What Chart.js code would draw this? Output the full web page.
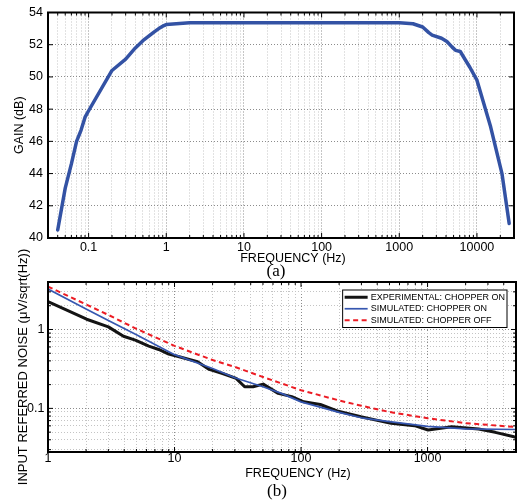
<!DOCTYPE html>
<html>
<head>
<meta charset="utf-8">
<script src="https://cdn.jsdelivr.net/npm/chart.js@4.4.0/dist/chart.umd.min.js"></script>
<style>
html,body{margin:0;padding:0;background:#fff;}
#wrap{position:relative;width:517px;height:504px;overflow:hidden;background:#fff;}
#boxA{position:absolute;left:0;top:0;width:517px;height:282px;}
#boxB{position:absolute;left:0;top:230px;width:517px;height:274px;}
</style>
</head>
<body>
<div id="wrap">
  <div id="boxA"><canvas id="cA"></canvas></div>
  <div id="boxB"><canvas id="cB"></canvas></div>
</div>
<script>
// ---------- (a) gain response ----------
const gainFreq = [0.04, 0.05, 0.06, 0.07, 0.08, 0.09, 0.1, 0.2, 0.3, 0.4, 0.5, 0.6, 0.7, 0.8, 0.9, 1, 2, 10, 100, 1000, 1500, 2000, 2400, 2650, 3500, 4100, 4800, 5300, 6100, 7100, 8100, 10000, 15000, 21000, 26000];
const gainDb   = [40.5, 43.1, 44.6, 46.0, 46.7, 47.5, 47.9, 50.4, 51.1, 51.8, 52.25, 52.55, 52.8, 53.0, 53.15, 53.25, 53.36, 53.36, 53.36, 53.36, 53.3, 53.1, 52.75, 52.6, 52.4, 52.2, 51.85, 51.65, 51.58, 51.05, 50.6, 49.8, 46.9, 44.0, 40.9];
const gainXLabels = [0.1, 1, 10, 100, 1000, 10000];
const gainYTicks  = [40, 42, 44, 46, 48, 50, 52, 54];

// ---------- (b) input referred noise ----------
const expFreq  = [1, 2.02, 3.0, 3.95, 4.9, 6.26, 7.5, 9.0, 10.9, 15.2, 18.8, 24, 30.7, 35.8, 41.8, 50.2, 66, 84.5, 105, 142, 193, 297, 515, 790, 1010, 1550, 2530, 3430, 4820, 5000];
const expNoise = [2.25, 1.35, 1.08, 0.82, 0.733, 0.615, 0.558, 0.487, 0.451, 0.39, 0.312, 0.277, 0.24, 0.188, 0.188, 0.203, 0.155, 0.141, 0.121, 0.112, 0.0926, 0.0783, 0.0646, 0.0604, 0.0532, 0.0586, 0.0547, 0.0497, 0.0437, 0.0425];
const simOnFreq  = [1, 2, 3, 5, 10, 20, 30, 50, 70, 100, 200, 300, 500, 1000, 2000, 5000];
const simOnNoise = [3.25, 1.82, 1.3, 0.86, 0.48, 0.32, 0.245, 0.188, 0.155, 0.121, 0.089, 0.076, 0.068, 0.059, 0.055, 0.054];
const simOffFreq  = [1, 2, 3, 5, 10, 20, 30, 50, 100, 200, 300, 500, 1000, 2000, 5000];
const simOffNoise = [3.5, 2.08, 1.53, 1.02, 0.62, 0.41, 0.335, 0.25, 0.17, 0.126, 0.108, 0.09, 0.075, 0.065, 0.058];
const noiseXLabels = [1, 10, 100, 1000];
const noiseYLabels = [0.1, 1];
const seriesNames = ['EXPERIMENTAL: CHOPPER ON', 'SIMULATED: CHOPPER ON', 'SIMULATED: CHOPPER OFF'];

// ---------- helpers ----------
Chart.defaults.font.family = "'Liberation Sans', Arial, sans-serif";
Chart.defaults.color = '#000';

function decadeTicks(min, max) {
  const out = [];
  for (let e = Math.floor(Math.log10(min)); e <= Math.ceil(Math.log10(max)); e++) {
    for (let k = 1; k <= 9; k++) {
      const v = Number((k * Math.pow(10, e)).toPrecision(10));
      if (v >= min * (1 - 1e-9) && v <= max * (1 + 1e-9)) out.push(v);
    }
  }
  return out;
}
const same = (a, b) => Math.abs(a - b) <= Math.abs(b) * 1e-6;
const isDecade = v => Math.abs(Math.log10(v) - Math.round(Math.log10(v))) < 1e-9;
const pts = (xs, ys) => xs.map((x, i) => ({x: x, y: ys[i]}));

function gridOpts() {
  return { drawTicks: false, lineWidth: 1,
           color: c => (c.tick && c.tick.major) ? '#8c8c8c' : '#c4c4c4' };
}
function borderOpts() { return { display: true, color: '#000', width: 2, dash: [1, 2] }; }

function logAxis(min, max, labels, padding, fitSize, horizontal) {
  return {
    type: 'logarithmic', min: min, max: max,
    afterBuildTicks: s => { s.ticks = decadeTicks(s.min, s.max).map(v => ({value: v, major: isDecade(v)})); },
    afterFit: s => { if (horizontal) s.height = fitSize; else s.width = fitSize; },
    ticks: { autoSkip: false, maxRotation: 0, minRotation: 0, padding: padding,
             font: { size: 12.5, lineHeight: 1 },
             callback: v => labels.some(l => same(v, l)) ? String(v) : '' },
    grid: gridOpts(), border: borderOpts()
  };
}

// frame (top/right border) and inward tick marks
const framePlugin = {
  id: 'frame',
  afterDatasetsDraw(chart) {
    const {ctx, chartArea: a} = chart;
    ctx.save();
    ctx.strokeStyle = '#000';
    ctx.setLineDash([]);
    ctx.lineWidth = 1;
    Object.values(chart.scales).forEach(s => {
      s.ticks.forEach(t => {
        const p = s.getPixelForValue(t.value);
        const len = t.major ? 5 : 3;
        ctx.beginPath();
        if (s.isHorizontal()) {
          ctx.moveTo(p, a.bottom); ctx.lineTo(p, a.bottom - len);
          ctx.moveTo(p, a.top); ctx.lineTo(p, a.top + len);
        } else {
          ctx.moveTo(a.left, p); ctx.lineTo(a.left + len, p);
          ctx.moveTo(a.right, p); ctx.lineTo(a.right - len, p);
        }
        ctx.stroke();
      });
    });
    ctx.lineWidth = 2;
    ctx.strokeRect(a.left, a.top, a.right - a.left, a.bottom - a.top);
    ctx.restore();
  }
};

// captions below the plot (axis title + panel label)
const captionPlugin = {
  id: 'captions',
  afterDraw(chart, args, opts) {
    const {ctx, chartArea: a} = chart;
    const cx = (a.left + a.right) / 2;
    ctx.save();
    ctx.fillStyle = '#000';
    ctx.textAlign = 'center';
    ctx.textBaseline = 'middle';
    (opts.items || []).forEach(it => {
      ctx.font = it.font;
      ctx.fillText(it.text, cx + it.dx, a.bottom + it.dy);
    });
    ctx.restore();
  }
};

// boxed legend inside the plot area
const boxLegendPlugin = {
  id: 'boxLegend',
  afterDatasetsDraw(chart, args, opts) {
    if (!opts.enabled) return;
    const {ctx, chartArea: a} = chart;
    const ds = chart.data.datasets;
    ctx.save();
    ctx.font = opts.font;
    const tw = Math.max(...ds.map(d => ctx.measureText(d.label).width));
    const padL = 2, gap = 3, padR = 2;
    const w = padL + opts.sample + gap + tw + padR;
    const h = opts.rowHeight * ds.length + opts.padV * 2;
    const right = a.right - opts.offsetX, top = a.top + opts.offsetY;
    const left = right - w;
    ctx.fillStyle = '#fff';
    ctx.fillRect(left, top, w, h);
    ctx.setLineDash([]);
    ctx.strokeStyle = '#000';
    ctx.lineWidth = 1;
    ctx.strokeRect(left, top, w, h);
    ds.forEach((d, i) => {
      const cy = top + opts.padV + opts.rowHeight * (i + 0.5);
      ctx.beginPath();
      ctx.setLineDash(d.borderDash || []);
      ctx.lineWidth = d.borderWidth;
      ctx.strokeStyle = d.borderColor;
      ctx.moveTo(left + padL, cy);
      ctx.lineTo(left + padL + opts.sample, cy);
      ctx.stroke();
      ctx.setLineDash([]);
      ctx.fillStyle = '#000';
      ctx.textAlign = 'left';
      ctx.textBaseline = 'middle';
      ctx.fillText(d.label, left + padL + opts.sample + gap, cy);
    });
    ctx.restore();
  }
};

const commonPlugins = {
  legend: { display: false },
  tooltip: { enabled: false },
  title: { display: false }
};

// ---------- chart (a) ----------
new Chart(document.getElementById('cA'), {
  type: 'line',
  data: {
    datasets: [{
      label: 'GAIN',
      data: pts(gainFreq, gainDb),
      borderColor: '#3352a4', borderWidth: 3.5,
      pointRadius: 0, tension: 0, fill: false,
      borderJoinStyle: 'round', borderCapStyle: 'round'
    }]
  },
  options: {
    responsive: true, maintainAspectRatio: false, animation: false, devicePixelRatio: 1,
    layout: { padding: { top: 12, right: 1, left: 0, bottom: 0 } },
    scales: {
      x: logAxis(0.03, 30000, gainXLabels, 3, 44, true),
      y: {
        type: 'linear', min: 40, max: 54,
        afterBuildTicks: s => { s.ticks = gainYTicks.map(v => ({value: v, major: true})); },
        afterFit: s => { s.width = 48; },
        ticks: { padding: 5, font: { size: 12.5 }, callback: v => String(v) },
        grid: gridOpts(), border: borderOpts(),
        title: { display: true, text: 'GAIN (dB)', font: { size: 12.5, lineHeight: 1 }, padding: { top: 13, bottom: 0 } }
      }
    },
    plugins: Object.assign({}, commonPlugins, {
      captions: { items: [
        { text: 'FREQUENCY (Hz)', dx: 12, dy: 20.3, font: "12.5px 'Liberation Sans', Arial, sans-serif" },
        { text: '(a)', dx: -5, dy: 34, font: "17px 'Liberation Serif', 'Times New Roman', serif" }
      ] },
      boxLegend: { enabled: false }
    })
  },
  plugins: [framePlugin, captionPlugin, boxLegendPlugin]
});

// ---------- chart (b) ----------
new Chart(document.getElementById('cB'), {
  type: 'line',
  data: {
    datasets: [
      { label: seriesNames[0], data: pts(expFreq, expNoise), borderColor: '#141414', borderWidth: 3,
        pointRadius: 0, tension: 0, fill: false, order: 3, borderJoinStyle: 'round' },
      { label: seriesNames[1], data: pts(simOnFreq, simOnNoise), borderColor: '#3657b0', borderWidth: 1.7,
        pointRadius: 0, tension: 0, fill: false, order: 2, borderJoinStyle: 'round' },
      { label: seriesNames[2], data: pts(simOffFreq, simOffNoise), borderColor: '#ec1c24', borderWidth: 2,
        borderDash: [5, 3.5], pointRadius: 0, tension: 0, fill: false, order: 1 }
    ]
  },
  options: {
    responsive: true, maintainAspectRatio: false, animation: false, devicePixelRatio: 1,
    layout: { padding: { top: 52, right: 1, left: 0, bottom: 0 } },
    scales: {
      x: logAxis(1, 5000, noiseXLabels, 0, 52, true),
      y: Object.assign(logAxis(0.028, 4, noiseYLabels, 3.5, 48, false), {
        title: { display: true, text: 'INPUT REFERRED NOISE (\u03bcV/sqrt(Hz))', font: { size: 13, lineHeight: 1 }, padding: { top: 16.5, bottom: 0 } }
      })
    },
    plugins: Object.assign({}, commonPlugins, {
      captions: { items: [
        { text: 'FREQUENCY (Hz)', dx: 16, dy: 21.3, font: "12.5px 'Liberation Sans', Arial, sans-serif" },
        { text: '(b)', dx: -5, dy: 39.7, font: "17px 'Liberation Serif', 'Times New Roman', serif" }
      ] },
      boxLegend: { enabled: true, font: "9px 'Liberation Sans', Arial, sans-serif",
                   sample: 23, rowHeight: 11.5, padV: 1.5, offsetX: 9, offsetY: 8 }
    })
  },
  plugins: [framePlugin, captionPlugin, boxLegendPlugin]
});
</script>
</body>
</html>
